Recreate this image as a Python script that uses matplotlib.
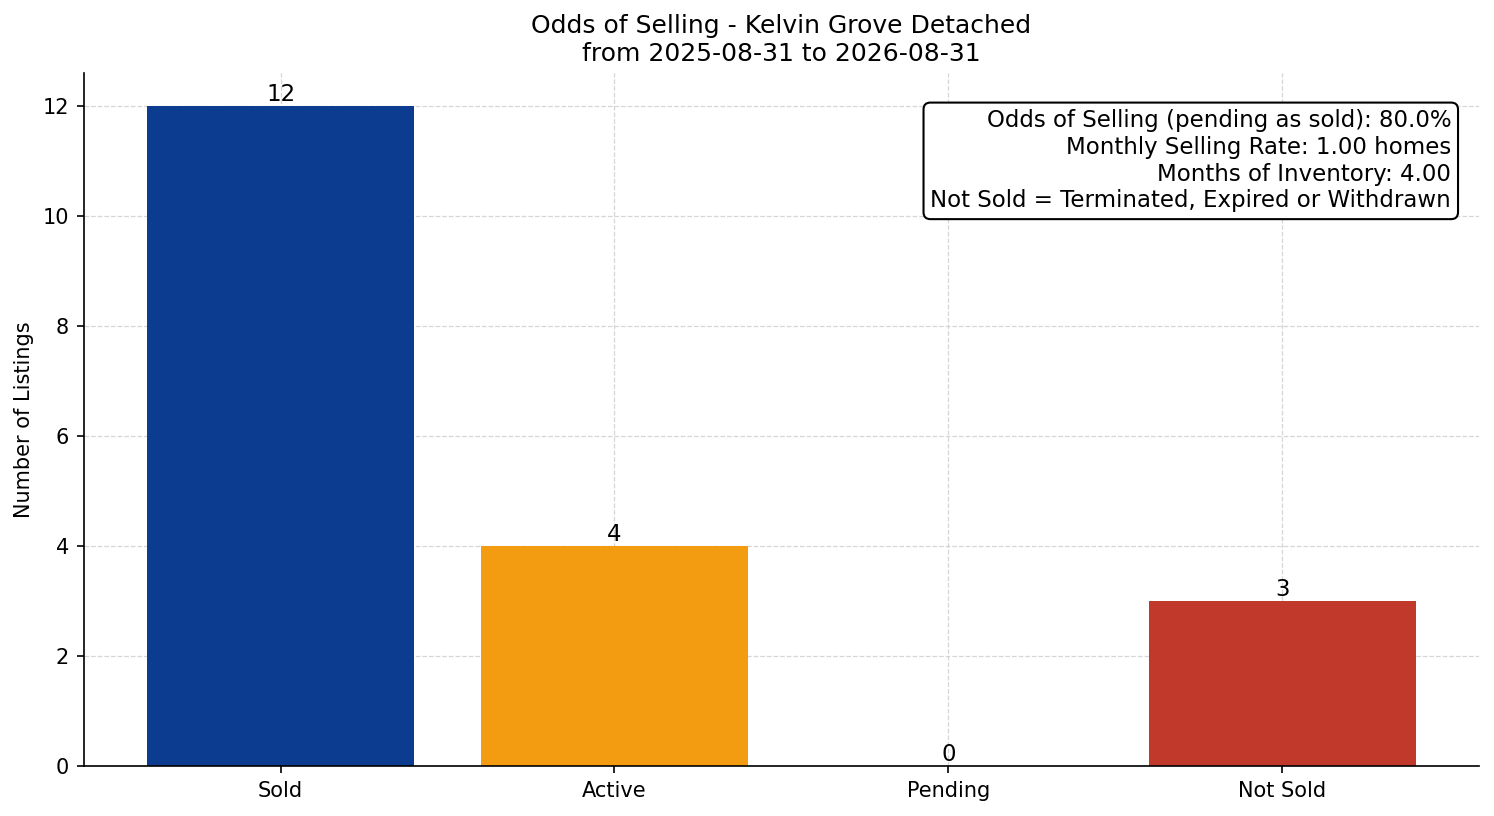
import matplotlib
matplotlib.use("Agg")
import matplotlib.pyplot as plt

categories = ["Sold", "Active", "Pending", "Not Sold"]
counts = [12, 4, 0, 3]
colors = ["#0B3C8F", "#F39C12", "#2E86C1", "#C0392B"]
title = "Odds of Selling - Kelvin Grove Detached\nfrom 2025-08-31 to 2026-08-31"
info_lines = [
    "Odds of Selling (pending as sold): 80.0%",
    "Monthly Selling Rate: 1.00 homes",
    "Months of Inventory: 4.00",
    "Not Sold = Terminated, Expired or Withdrawn",
]

fig, ax = plt.subplots(figsize=(9.96, 5.44), dpi=150)
bars = ax.bar(categories, counts, color=colors, width=0.8, zorder=2)
for b, v in zip(bars, counts):
    ax.text(b.get_x() + b.get_width() / 2, v, str(v), ha="center", va="bottom", fontsize=11)

ax.set_title(title, fontsize=12)
ax.set_ylabel("Number of Listings", fontsize=10)
ax.grid(True, linestyle="--", linewidth=0.6, color="#cccccc", alpha=0.8, zorder=3)
ax.spines["top"].set_visible(False)
ax.spines["right"].set_visible(False)
ax.text(0.98, 0.948, "\n".join(info_lines), transform=ax.transAxes, ha="right", va="top",
        fontsize=11, bbox=dict(boxstyle="round,pad=0.3", facecolor="white", edgecolor="black"))
fig.subplots_adjust(left=0.056, right=0.99, top=0.91, bottom=0.061)
fig.savefig("out.png", dpi=150)
